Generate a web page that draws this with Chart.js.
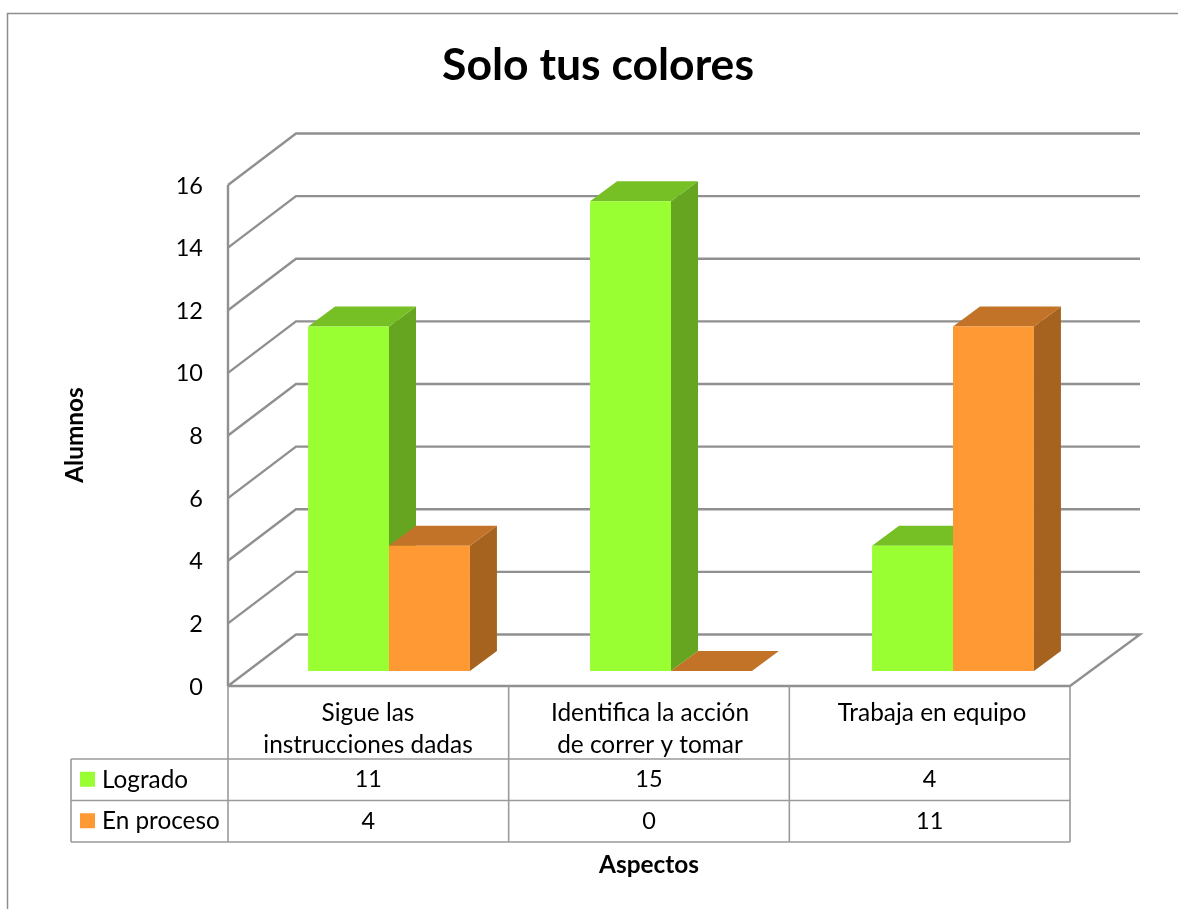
<!DOCTYPE html>
<html><head><meta charset="utf-8">
<style>html,body{margin:0;padding:0;background:#fff}canvas{display:block}</style>
<script src="https://cdn.jsdelivr.net/npm/chart.js@4"></script>
</head><body><canvas id="c" width="1178" height="909"></canvas>
<script>
const chartTitle = 'Solo tus colores';
const yAxisTitle = 'Alumnos';
const xAxisTitle = 'Aspectos';
const categories = [['Sigue las','instrucciones dadas'],['Identifica la acción','de correr y tomar'],['Trabaja en equipo']];
const seriesNames = ['Logrado','En proceso'];
const logrado = [11,15,4];
const enProceso = [4,0,11];
const frontColors = ['#99FF33','#FF9933'];
const sideColors = ['#65A520','#A6631F'];
const topColors = ['#76C026','#C27327'];
const FONT = 'Lato, Carlito, sans-serif';
const GRID = '#909090', TBL = '#9a9a9a';
const FRONT = {dx:-20, dy:15}, BACK = {dx:48, dy:-36.5}, DEPTH = {dx:27, dy:-20};

function line(ctx, pts, color, w){
  ctx.save();ctx.strokeStyle=color;ctx.lineWidth=w;ctx.lineJoin='miter';ctx.beginPath();
  pts.forEach((p,i)=>i?ctx.lineTo(p[0],p[1]):ctx.moveTo(p[0],p[1]));ctx.stroke();ctx.restore();
}
function poly(ctx, pts, color){
  ctx.fillStyle=color;ctx.beginPath();
  pts.forEach((p,i)=>i?ctx.lineTo(p[0],p[1]):ctx.moveTo(p[0],p[1]));ctx.closePath();ctx.fill();
}
const threeD = {
  id:'threeD',
  beforeDatasetsDraw(chart){
    const {ctx, scales:{x,y}} = chart;
    const FL=x.left+FRONT.dx, FR=FL+x.width-4, BL=x.left+BACK.dx, BR=BL+x.width-2;
    line(ctx,[[7.5,909],[7.5,13.5],[1178,13.5]],'#8e8e8e',1.5);
    y.ticks.forEach(t=>{
      const py=y.getPixelForValue(t.value);
      if(t.value===0) return;
      line(ctx,[[FL,py+FRONT.dy],[BL,py+BACK.dy],[BR,py+BACK.dy]],GRID,2.4);
    });
    const y0=y.getPixelForValue(0), yT=y.getPixelForValue(16);
    line(ctx,[[FL,yT+FRONT.dy],[FL,y0+FRONT.dy]],GRID,2.4);
    line(ctx,[[FL,y0+FRONT.dy],[BL,y0+BACK.dy],[BR,y0+BACK.dy],[FR,y0+FRONT.dy],[FL,y0+FRONT.dy]],GRID,2.4);
    chart.data.datasets.forEach((ds,di)=>{
      chart.getDatasetMeta(di).data.forEach(b=>{
        const l=b.x-b.width/2, r=b.x+b.width/2, t=b.y, bt=b.base;
        poly(ctx,[[r,t],[r+DEPTH.dx,t+DEPTH.dy],[r+DEPTH.dx,bt+DEPTH.dy],[r,bt]],sideColors[di]);
        poly(ctx,[[l,t],[l+DEPTH.dx,t+DEPTH.dy],[r+DEPTH.dx,t+DEPTH.dy],[r,t]],topColors[di]);
      });
    });
  },
  afterDraw(chart){
    const {ctx, scales:{x,y}} = chart;
    const colW=(x.width-4)/categories.length;
    const xs=[0,1,2,3].map(i=>x.left+FRONT.dx+colW*i);
    const rowTop=y.getPixelForValue(0)+FRONT.dy, r1=759, r2=800.5, r3=842, tblLeft=71;
    xs.forEach(px=>line(ctx,[[px,rowTop],[px,r3]],TBL,1.6));
    [r1,r2,r3].forEach(r=>line(ctx,[[tblLeft,r],[xs[3],r]],TBL,1.6));
    line(ctx,[[tblLeft,r1],[tblLeft,r3]],TBL,1.6);
    ctx.textBaseline='middle';
    const rows=[logrado,enProceso], ys=[(r1+r2)/2,(r2+r3)/2];
    rows.forEach((vals,ri)=>{
      ctx.fillStyle=frontColors[ri];
      ctx.fillRect(80,ys[ri]-8,15,15);
      ctx.fillStyle='#000';
      ctx.font='24.3px '+FONT;ctx.textAlign='left';
      ctx.fillText(seriesNames[ri],102,ys[ri]);
      ctx.textAlign='center';
      ctx.font='23.5px '+FONT;
      vals.forEach((v,i)=>ctx.fillText(String(v),(xs[i]+xs[i+1])/2,ys[ri]));
    });
    ctx.font='bold 24.4px '+FONT;ctx.textAlign='center';ctx.fillStyle='#000';
    ctx.fillText(xAxisTitle,649,865);
    ctx.save();ctx.translate(75,435);ctx.rotate(-Math.PI/2);ctx.fillText(yAxisTitle,0,0);ctx.restore();
  }
};
new Chart(document.getElementById('c'),{
  type:'bar',
  data:{labels:categories,datasets:[
    {label:seriesNames[0],data:logrado,backgroundColor:frontColors[0],borderWidth:0},
    {label:seriesNames[1],data:enProceso,backgroundColor:frontColors[1],borderWidth:0}
  ]},
  plugins:[threeD],
  options:{
    responsive:false,animation:false,devicePixelRatio:1,
    layout:{padding:{left:102,right:84,top:0,bottom:0}},
    plugins:{
      legend:{display:false},tooltip:{enabled:false},
      title:{display:true,text:chartTitle,color:'#000',font:{family:FONT,size:44.5,weight:'bold',lineHeight:1.2},padding:{top:39.3,bottom:77.3}}
    },
    datasets:{bar:{categoryPercentage:0.574,barPercentage:1}},
    scales:{
      x:{
        grid:{display:false,drawTicks:false},border:{display:false},
        afterFit(s){s.height=238;},
        ticks:{autoSkip:false,maxRotation:0,minRotation:0,color:'#000',padding:26,labelOffset:-21,font:{family:FONT,size:24.4,lineHeight:1.31}}
      },
      y:{
        min:0,max:16,
        grid:{display:false,drawTicks:false},border:{display:false},
        afterFit(s){s.width=146;},
        ticks:{stepSize:2,color:'#000',padding:45,labelOffset:16,font:{family:FONT,size:23.5}}
      }
    }
  }
});
</script></body></html>
